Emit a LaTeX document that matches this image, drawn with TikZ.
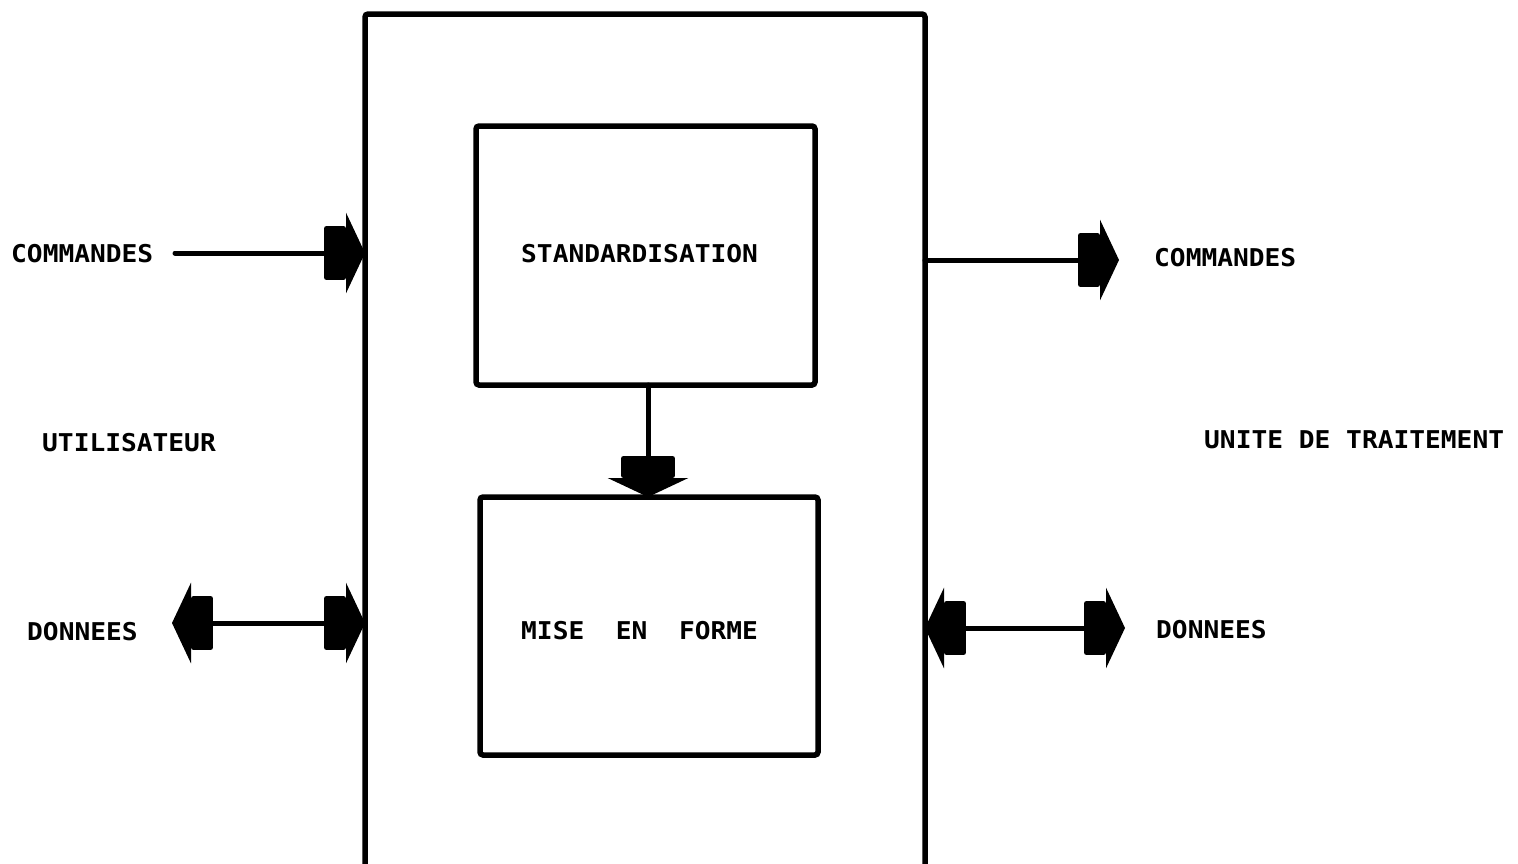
\documentclass[tikz,border=0pt]{standalone}
\usepackage{fontspec}
\newfontfamily\monof[FakeStretch=1.07]{DejaVu Sans Mono}
\usetikzlibrary{arrows.meta}
\tikzset{
  box/.style={draw, line width=5.5pt, rounded corners=3pt, inner sep=0pt, outer sep=0pt},
  lbl/.style={font=\monof\bfseries\fontsize{24.5}{24.5}\selectfont, inner sep=0pt, anchor=west},
  conn/.style={line width=5pt, line cap=round},
  blockarrow/.tip={Rectangle[length=22pt,width=54pt,round,sep=0pt]Triangle[length=19pt,width=80pt]}
}
\begin{document}
\begin{tikzpicture}[x=1pt,y=-1pt]
\useasboundingbox (0,0) rectangle (1518,863);
\clip (0,0) rectangle (1518,863);
% boxes
\node[box, minimum width=560pt, minimum height=856pt] (outer) at (645,442) {};
\node[box, minimum width=339pt, minimum height=259pt] (std) at (645.5,255.5) {};
\node[box, minimum width=338pt, minimum height=258pt] (mef) at (649,626) {};
% texts
\node[lbl] (tstd) at (521,253.5) {STANDARDISATION};
\node[lbl] (tmef) at (521,631) {MISE\ \ EN\ \ FORME};
\node[lbl] (cmdl) at (11,254) {COMMANDES};
\node[lbl] (util) at (42,443) {UTILISATEUR};
\node[lbl] (donl) at (27,632) {DONNEES};
\node[lbl] (cmdr) at (1154,258) {COMMANDES};
\node[lbl] (unit) at (1204,440) {UNITE DE TRAITEMENT};
\node[lbl] (donr) at (1156,630) {DONNEES};
% connector end points
\coordinate (cL) at (175,253);
\coordinate (cR) at (1119,260);
\coordinate (dL) at (172,623);
\coordinate (dR) at (1125,628);
% connectors
\draw[conn,-{blockarrow}] (cL) -- (cL -| outer.west);
\draw[conn,-{blockarrow}] (outer.east |- cR) -- (cR);
\draw[conn,{blockarrow}-{blockarrow}] (dL) -- (dL -| outer.west);
\draw[conn,{blockarrow}-{blockarrow}] (outer.east |- dR) -- (dR);
\draw[conn,-{blockarrow}] ([xshift=2.5pt]std.south) -- ([xshift=-1pt]mef.north);
\end{tikzpicture}
\end{document}
